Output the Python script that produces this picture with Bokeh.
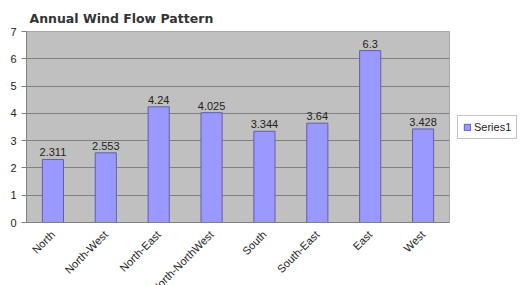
import math
from bokeh.plotting import figure
from bokeh.core.properties import value
from bokeh.models import ColumnDataSource, FactorRange, Legend, LegendItem, LabelSet
from bokeh.embed import file_html
from bokeh.resources import INLINE

categories = ["North", "North-West", "North-East", "North-NorthWest",
              "South", "South-East", "East", "West"]
values = [2.311, 2.553, 4.24, 4.025, 3.344, 3.64, 6.3, 3.428]
value_labels = ["2.311", "2.553", "4.24", "4.025", "3.344", "3.64", "6.3", "3.428"]
series_name = "Series1"
title_text = "Annual Wind Flow Pattern"

src = ColumnDataSource(dict(cat=categories, val=values, lab=value_labels))

p = figure(frame_width=423, frame_height=191, x_range=FactorRange(*categories), y_range=(0, 7),
           output_backend="svg", toolbar_location=None,
           min_border_left=26, min_border_right=67, min_border_top=31, min_border_bottom=40)

p.title.text = title_text
p.title.text_font = "DejaVu Sans"
p.title.text_font_size = "12.5px"
p.title.text_font_style = "bold"
p.title.text_color = "#333333"
p.title.offset = 3
p.title.standoff = 12

p.background_fill_color = "#C0C0C0"
p.border_fill_color = "white"
p.outline_line_color = "#A8A8A8"

r = p.vbar(x="cat", top="val", width=0.4, source=src,
           fill_color="#9999FF", line_color="#6060A8", line_width=1)

labels = LabelSet(x="cat", y="val", text="lab", source=src, text_align="center",
                  text_baseline="bottom", y_offset=3, text_font=value("Liberation Sans"),
                  text_font_size="11px", text_color="#222222")
p.add_layout(labels)

p.ygrid.grid_line_color = "#808080"
p.ygrid.grid_line_width = 1
p.xgrid.grid_line_color = None

p.yaxis.ticker = list(range(0, 8))
p.yaxis.major_label_text_font = "Liberation Sans"
p.yaxis.major_label_text_font_size = "11px"
p.yaxis.major_label_text_color = "#222222"
p.yaxis.axis_line_color = "#808080"
p.yaxis.major_tick_line_color = "#808080"
p.yaxis.major_tick_out = 5
p.yaxis.major_tick_in = 0
p.yaxis.minor_tick_line_color = None
p.yaxis.major_label_standoff = 5

p.xaxis.major_label_orientation = math.pi / 4
p.xaxis.major_label_text_font = "Liberation Sans"
p.xaxis.major_label_text_font_size = "11px"
p.xaxis.major_label_text_color = "#222222"
p.xaxis.axis_line_color = "#808080"
p.xaxis.major_tick_line_color = None
p.xaxis.major_label_standoff = 4

legend = Legend(items=[LegendItem(label=series_name, renderers=[r])],
                location="center_left", glyph_width=8, glyph_height=8, label_standoff=3,
                padding=5, margin=8, spacing=0,
                label_text_font="Liberation Sans", label_text_font_size="11px",
                label_text_color="#222222", border_line_color="#888888",
                label_height=12)
p.add_layout(legend, "right")

open("out.html", "w").write(file_html(p, INLINE))
